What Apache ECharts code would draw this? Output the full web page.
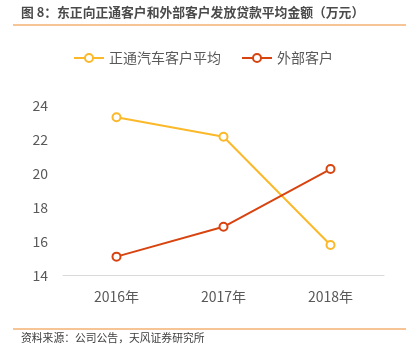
<!DOCTYPE html>
<html><head><meta charset="utf-8">
<script src="https://cdn.jsdelivr.net/npm/echarts@6/dist/echarts.min.js"></script>
<style>html,body{margin:0;padding:0;background:#fff}#c{width:406px;height:359px}</style>
</head><body><div id="c"></div>
<script>
const categories = ['2016年', '2017年', '2018年'];
const zhengtong = [23.32, 22.17, 15.80];
const external = [15.11, 16.87, 20.27];
const yTicks = [14, 16, 18, 20, 22, 24];
const seriesNames = ['正通汽车客户平均', '外部客户'];
const titleText = '图 8：东正向正通客户和外部客户发放贷款平均金额（万元）';
const sourceText = '资料来源：公司公告，天风证券研究所';

const chart = echarts.init(document.getElementById('c'));
const font = '"Noto Sans CJK SC", sans-serif';
chart.setOption({
  animation: false,
  textStyle: { fontFamily: font },
  graphic: [
    { type: 'text', left: 21, top: 6, style: { text: titleText, font: 'bold 12.8px ' + font, fill: '#4a4a4a' } },
    { type: 'line', shape: { x1: 13, y1: 25, x2: 406, y2: 25 }, style: { stroke: '#F08A2C', lineWidth: 1.2 } },
    { type: 'line', shape: { x1: 13, y1: 329, x2: 406, y2: 329 }, style: { stroke: '#F08A2C', lineWidth: 1.2 } },
    { type: 'text', left: 21, top: 333, style: { text: sourceText, font: '10.8px ' + font, fill: '#404040' } }
  ],
  legend: {
    top: 46, left: 'center', itemGap: 20, itemWidth: 30, itemHeight: 10,
    textStyle: { fontSize: 14, color: '#595959', fontFamily: font },
    data: seriesNames
  },
  grid: { left: 63, right: 22, top: 105.7, bottom: 83.5 },
  xAxis: {
    type: 'category', data: categories, boundaryGap: true,
    axisLine: { lineStyle: { color: '#D9D9D9', width: 1 } },
    axisTick: { show: false },
    axisLabel: { color: '#595959', fontSize: 14, margin: 14, fontFamily: font }
  },
  yAxis: {
    type: 'value', min: yTicks[0], max: yTicks[yTicks.length - 1], interval: 2,
    axisLine: { show: false }, axisTick: { show: false }, splitLine: { show: false },
    axisLabel: { color: '#595959', fontSize: 14, margin: 15, fontFamily: font }
  },
  series: [
    { name: seriesNames[0], type: 'line', data: zhengtong, color: '#FBB829',
      symbol: 'emptyCircle', symbolSize: 8, lineStyle: { width: 2 }, itemStyle: { borderWidth: 2 } },
    { name: seriesNames[1], type: 'line', data: external, color: '#D8440F',
      symbol: 'emptyCircle', symbolSize: 8, lineStyle: { width: 2 }, itemStyle: { borderWidth: 2 } }
  ]
});
</script></body></html>
